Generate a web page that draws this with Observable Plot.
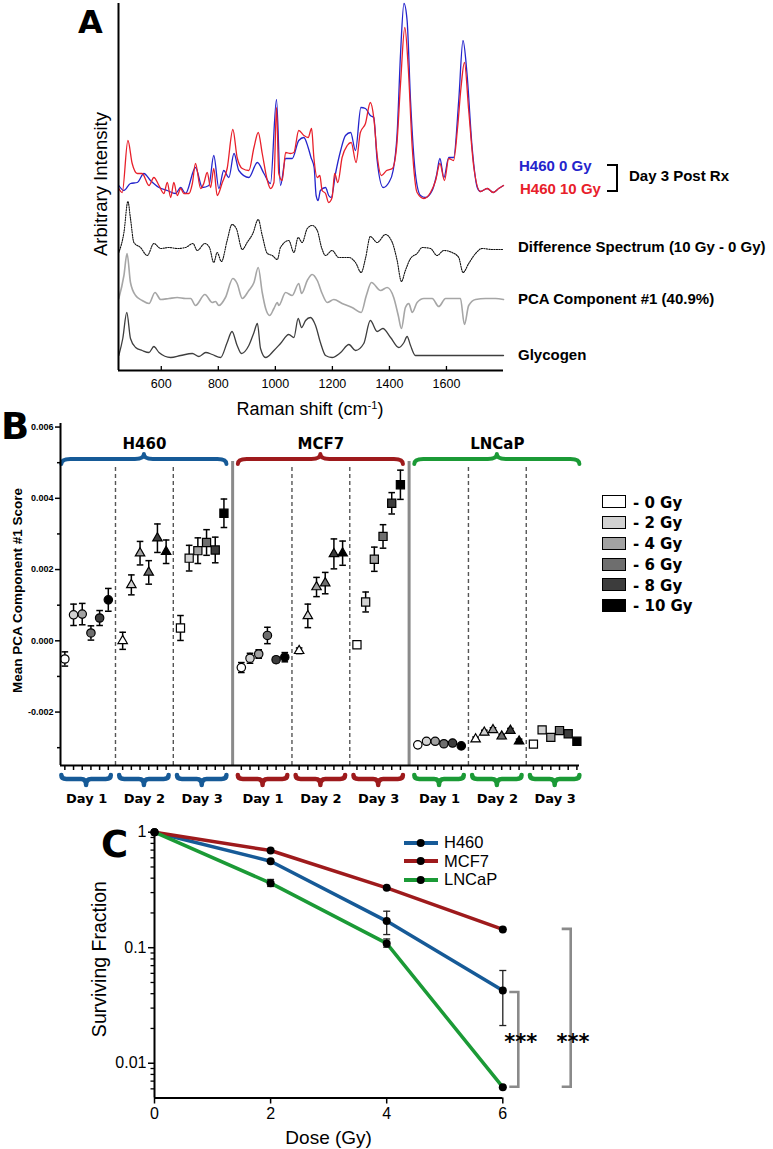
<!DOCTYPE html>
<html>
<head>
<meta charset="utf-8">
<script src="https://cdn.jsdelivr.net/npm/d3@7"></script>
<script src="https://cdn.jsdelivr.net/npm/@observablehq/plot@0.6"></script>
<style>
html,body{margin:0;padding:0;background:#fff;}
#root{position:relative;width:773px;height:1149px;overflow:hidden;background:#fff;}
.abs{position:absolute;white-space:nowrap;line-height:1;}
sup{font-size:62%;vertical-align:0.55em;line-height:0;}
</style>
</head>
<body>
<div id="root"></div>
<script>
// ================= DATA =================
// ---- Panel A: Raman spectra, [wavenumber cm^-1, arbitrary intensity] ----
const h460_0Gy = [[451,185],[469,180],[492,187],[516,188],[539,197],[562,190],[592,183],[621,180],[650,177],[668,183],[685,177],[720,203],[744,183],[767,185],[784,215],[802,182],[819,200],[837,193],[855,217],[872,200],[907,193],[937,208],[960,197],[983,187],[1004,271],[1018,185],[1036,212],[1059,212],[1082,230],[1100,233],[1115,223],[1125,213],[1136,203],[1143,175],[1150,170],[1158,180],[1176,183],[1187,175],[1196,173],[1211,197],[1229,220],[1246,235],[1264,238],[1281,220],[1300,263],[1316,262],[1333,255],[1345,253],[1357,210],[1378,183],[1398,188],[1413,200],[1427,237],[1439,317],[1451,367],[1462,350],[1474,270],[1491,197],[1509,175],[1526,173],[1550,180],[1565,195],[1577,212],[1591,193],[1608,213],[1625,213],[1643,270],[1658,330],[1672,297],[1690,223],[1708,183],[1719,179],[1743,182],[1764,178],[1783,182],[1800,185]];
const h460_10Gy = [[451,182],[463,178],[483,230],[498,207],[516,197],[533,197],[557,185],[574,193],[592,185],[609,177],[621,188],[633,173],[644,188],[656,175],[668,182],[679,177],[697,177],[709,187],[720,207],[738,182],[749,187],[761,198],[773,183],[784,202],[796,175],[814,188],[831,202],[851,241],[866,213],[884,202],[907,200],[925,223],[940,238],[954,217],[972,190],[983,182],[995,188],[1004,263],[1012,197],[1024,190],[1036,218],[1053,217],[1065,218],[1082,240],[1100,235],[1115,233],[1127,242],[1135,213],[1147,193],[1156,195],[1164,180],[1176,177],[1187,168],[1199,173],[1208,197],[1219,188],[1234,213],[1252,225],[1266,228],[1283,208],[1298,238],[1316,247],[1333,268],[1345,253],[1357,215],[1372,195],[1390,200],[1410,202],[1425,223],[1439,287],[1454,343],[1466,303],[1480,223],[1497,178],[1521,172],[1544,178],[1562,190],[1577,207],[1593,190],[1608,212],[1625,210],[1639,243],[1651,283],[1663,308],[1678,260],[1696,203],[1719,179],[1743,182],[1764,178],[1783,182],[1800,185]];
const differenceSpectrum = [[451,118],[469,138],[483,169],[492,152],[504,128],[527,123],[551,115],[574,127],[598,122],[627,123],[656,122],[685,123],[711,127],[726,120],[753,127],[769,123],[784,108],[796,118],[811,109],[831,130],[848,146],[863,142],[884,121],[901,128],[921,137],[940,151],[954,135],[972,117],[989,115],[1007,111],[1018,123],[1047,130],[1065,118],[1080,133],[1094,128],[1112,142],[1129,145],[1147,140],[1162,123],[1176,115],[1199,120],[1222,113],[1258,113],[1281,108],[1301,98],[1316,112],[1333,134],[1357,128],[1386,136],[1410,128],[1427,110],[1442,89],[1456,100],[1474,112],[1497,117],[1515,123],[1544,122],[1567,115],[1591,120],[1620,118],[1643,113],[1658,98],[1678,107],[1702,117],[1725,122],[1760,121],[1800,121]];
const pcaComponent1 = [[451,72],[469,95],[480,117],[492,88],[510,75],[533,70],[557,67],[578,78],[598,71],[627,72],[656,73],[685,72],[703,72],[720,65],[753,76],[779,68],[790,69],[802,65],[825,73],[851,92],[866,87],[884,72],[907,80],[925,88],[940,103],[954,78],[966,62],[980,55],[995,62],[1007,68],[1012,65],[1036,78],[1059,75],[1082,87],[1092,77],[1112,90],[1129,96],[1147,90],[1164,77],[1182,68],[1205,71],[1234,67],[1269,63],[1301,58],[1319,75],[1337,88],[1369,80],[1392,83],[1415,73],[1431,55],[1442,42],[1456,63],[1468,67],[1480,58],[1497,68],[1521,72],[1550,72],[1573,64],[1597,72],[1632,72],[1649,72],[1663,46],[1678,65],[1702,71],[1737,72],[1772,72],[1800,71]];
const glycogen = [[451,15],[465,32],[479,58],[492,32],[510,23],[533,20],[557,18],[574,24],[592,18],[633,13],[668,15],[709,17],[732,14],[756,18],[779,16],[808,13],[831,28],[848,39],[866,25],[881,17],[907,25],[925,38],[937,47],[948,22],[966,13],[995,20],[1018,27],[1047,36],[1065,33],[1080,52],[1092,43],[1106,50],[1123,53],[1141,45],[1158,28],[1176,15],[1199,13],[1229,18],[1258,26],[1281,20],[1310,27],[1333,50],[1357,39],[1377,42],[1404,33],[1433,23],[1451,28],[1462,34],[1474,25],[1491,15],[1608,15],[1800,15]];
const ramanTicks = [600, 800, 1000, 1200, 1400, 1600];

// ---- Panel B: mean PCA component #1 score, [day][dose] ----
const cellLines = ["H460", "MCF7", "LNCaP"];
const dayLabels = ["Day 1", "Day 2", "Day 3"];
const doseLabels = ["0 Gy", "2 Gy", "4 Gy", "6 Gy", "8 Gy", "10 Gy"];
const h460Mean = [[-0.00051,0.00073,0.00075,0.00022,0.00064,0.00115],[0.00000,0.00157,0.00246,0.00192,0.00288,0.00250],[0.00036,0.00232,0.00253,0.00276,0.00255,0.00358]];
const h460Err  = [[0.00020,0.00030,0.00030,0.00020,0.00021,0.00032],[0.00024,0.00028,0.00033,0.00033,0.00040,0.00033],[0.00035,0.00036,0.00036,0.00036,0.00036,0.00040]];
const mcf7Mean = [[-0.00075,-0.00049,-0.00037,0.00015,-0.00053,-0.00046],[-0.00028,0.00070,0.00151,0.00162,0.00244,0.00246],[-0.00011,0.00109,0.00229,0.00293,0.00386,0.00438]];
const mcf7Err  = [[0.00014,0.00014,0.00012,0.00023,0.00008,0.00013],[0.00008,0.00033,0.00027,0.00030,0.00042,0.00034],[0.00006,0.00028,0.00034,0.00033,0.00030,0.00041]];
const lncapMean = [[-0.00292,-0.00282,-0.00282,-0.00289,-0.00287,-0.00295],[-0.00276,-0.00257,-0.00250,-0.00268,-0.00252,-0.00282],[-0.00290,-0.00250,-0.00271,-0.00252,-0.00261,-0.00282]];
const lncapErr  = [[0.00005,0.00005,0.00005,0.00005,0.00005,0.00005],[0.00006,0.00006,0.00006,0.00006,0.00006,0.00006],[0.00006,0.00006,0.00006,0.00006,0.00006,0.00006]];
const pcaTicksMajor = [-0.002, 0, 0.002, 0.004, 0.006];
const pcaTicksMinor = [-0.003, -0.001, 0.001, 0.003, 0.005];

// ---- Panel C: clonogenic survival ----
const doseGy = [0, 2, 4, 6];
const sfH460  = [1, 0.561, 0.170, 0.0426];
const sfH460Lo = [1, 0.561, 0.130, 0.0212];
const sfH460Hi = [1, 0.561, 0.207, 0.0635];
const sfMCF7  = [1, 0.694, 0.330, 0.144];
const sfMCF7Lo = [1, 0.694, 0.330, 0.144];
const sfMCF7Hi = [1, 0.694, 0.330, 0.144];
const sfLNCaP = [1, 0.362, 0.109, 0.0062];
const sfLNCaPLo = [1, 0.339, 0.101, 0.0062];
const sfLNCaPHi = [1, 0.390, 0.119, 0.0062];
const sfTicks = [0.01, 0.1, 1];
const sfMinorTicks = [0.006,0.007,0.008,0.009,0.02,0.03,0.04,0.05,0.06,0.07,0.08,0.09,0.2,0.3,0.4,0.5,0.6,0.7,0.8,0.9];
const doseTicks = [0, 2, 4, 6];

// ================= STYLE / LAYOUT =================
const cellColors = ["#165a97", "#9e1a1c", "#1b9a36"];
const doseFills = ["#ffffff", "#d2d2d2", "#a2a2a2", "#6e6e6e", "#3c3c3c", "#000000"];
const daySymbols = ["circle", "triangle", "square"];
const daySymbolR = [4.2, 3.5, 4.6];
const SANS = "Liberation Sans, Arial, Helvetica, sans-serif";
const VERD = "DejaVu Sans, Verdana, sans-serif";
const SVGNS = "http://www.w3.org/2000/svg";
const root = document.getElementById("root");

function place(el, top) {
  el.style.position = "absolute"; el.style.left = "0px"; el.style.top = top + "px";
  root.appendChild(el);
}
function label(text, x, baseline, fs, o = {}) {
  const d = document.createElement("div");
  d.className = "abs";
  d.style.left = x + "px";
  d.style.top = (baseline - 0.846 * fs) + "px";
  d.style.fontSize = fs + "px";
  d.style.fontFamily = o.family || SANS;
  d.style.fontWeight = o.weight || "bold";
  d.style.color = o.color || "#000";
  if (o.anchor === "middle") d.style.transform = "translateX(-50%)";
  if (o.html) d.innerHTML = text; else d.textContent = text;
  root.appendChild(d);
  return d;
}
const capSymbol = {draw(ctx, size) { const w = Math.sqrt(size / Math.PI); ctx.moveTo(-w, 0); ctx.lineTo(w, 0); }};
function svgEl(tag, attrs) {
  const e = document.createElementNS(SVGNS, tag);
  for (const k in attrs) e.setAttribute(k, attrs[k]);
  return e;
}

// ================= PANEL A =================
const toRows = (arr) => arr.map(([wn, v]) => ({wn, v}));
const plotA = Plot.plot({
  width: 773, height: 425,
  marginTop: 3, marginBottom: 55, marginLeft: 118, marginRight: 270,
  x: {domain: [450, 1800]},
  y: {domain: [0, 367], axis: null},
  style: {fontFamily: SANS, fontSize: "12.5px", background: "transparent", color: "black", overflow: "visible"},
  marks: [
    Plot.line(toRows(glycogen), {x: "wn", y: "v", stroke: "#3e3e3e", strokeWidth: 1.3, curve: "monotone-x"}),
    Plot.line(toRows(pcaComponent1), {x: "wn", y: "v", stroke: "#a6a6a6", strokeWidth: 1.6, curve: "monotone-x"}),
    Plot.line(toRows(differenceSpectrum), {x: "wn", y: "v", stroke: "#111", strokeWidth: 1.1, strokeDasharray: "1.3,1.2", curve: "monotone-x"}),
    Plot.line(toRows(h460_0Gy), {x: "wn", y: "v", stroke: "#2424cc", strokeWidth: 1.3, curve: "monotone-x"}),
    Plot.line(toRows(h460_10Gy), {x: "wn", y: "v", stroke: "#e8202a", strokeWidth: 1.3, curve: "monotone-x"}),
    Plot.ruleX(ramanTicks, {y1: 0, y2: 4, stroke: "black", strokeWidth: 1.3}),
    Plot.axisX({ticks: ramanTicks, tickFormat: d => String(d), tickSize: 0, tickPadding: 9, label: null, fontSize: 12.5}),
    Plot.ruleX([450], {stroke: "black", strokeWidth: 2}),
    Plot.ruleY([0], {stroke: "black", strokeWidth: 2}),
    Plot.text(["Arbitrary Intensity"], {frameAnchor: "left", rotate: -90, textAnchor: "middle", lineAnchor: "middle", dx: -17.5, dy: -3, fontSize: 18.5})
  ]
});
place(plotA, 0);

// ================= PANEL B =================
const CELL_STEP = 20.3, DAY_STEP = 6.65;
const slot = (ci, di, k) => ci * CELL_STEP + di * DAY_STEP + k;
const meansB = [h460Mean, mcf7Mean, lncapMean];
const errsB = [h460Err, mcf7Err, lncapErr];
const rowsB = [];
cellLines.forEach((c, ci) => dayLabels.forEach((d, di) => doseLabels.forEach((g, k) => {
  const m = meansB[ci][di][k], e = errsB[ci][di][k];
  rowsB.push({cell: c, day: d, dose: g, pos: slot(ci, di, k), mean: m, lo: m - e, hi: m + e});
})));
const daySeps = [], cellSeps = [], dayRows = [], cellRows = [];
cellLines.forEach((c, ci) => {
  cellRows.push({cell: c, center: (slot(ci, 0, 0) + slot(ci, 2, 5)) / 2});
  dayLabels.forEach((d, di) => {
    dayRows.push({day: d, center: (slot(ci, di, 0) + slot(ci, di, 5)) / 2});
    if (di < 2) daySeps.push((slot(ci, di, 5) + slot(ci, di + 1, 0)) / 2);
  });
  if (ci < 2) cellSeps.push((slot(ci, 2, 5) + slot(ci + 1, 0, 0)) / 2);
});
const yMinB = -0.0035, yMaxB = 0.0061, braceLevel = 0.00495;

function bracePath(x1, x2, y0, dir, hMain, hTip, r) {
  const xm = (x1 + x2) / 2, yl = y0 + dir * hMain, yt = y0 + dir * hTip;
  return `M${x1},${y0}Q${x1},${yl} ${x1 + r},${yl}L${xm - r},${yl}Q${xm},${yl} ${xm},${yt}Q${xm},${yl} ${xm + r},${yl}L${x2 - r},${yl}Q${x2},${yl} ${x2},${y0}`;
}
function bracesB(index, scales, values, dims) {
  const g = svgEl("g", {fill: "none", "stroke-linecap": "round", "stroke-linejoin": "round"});
  const yAxis = dims.height - dims.marginBottom;
  cellLines.forEach((c, ci) => {
    const x1 = scales.x(slot(ci, 0, 0)) - 3, x2 = scales.x(slot(ci, 2, 5)) + 3;
    g.appendChild(svgEl("path", {d: bracePath(x1, x2, scales.y(braceLevel), -1, 5, 10, 9), stroke: cellColors[ci], "stroke-width": 4}));
    dayLabels.forEach((d, di) => {
      const a = scales.x(slot(ci, di, 0)) - 3, b = scales.x(slot(ci, di, 5)) + 3;
      g.appendChild(svgEl("path", {d: bracePath(a, b, yAxis + 10, 1, 4, 10, 5), stroke: cellColors[ci], "stroke-width": 4.5}));
    });
  });
  return g;
}

const plotB = Plot.plot({
  width: 773, height: 400,
  marginTop: 13, marginBottom: 45, marginLeft: 60, marginRight: 194,
  x: {domain: [-0.5, 59.2]},
  y: {domain: [yMinB, yMaxB]},
  color: {type: "ordinal", domain: doseLabels, range: doseFills},
  style: {fontFamily: SANS, fontSize: "9px", fontWeight: "bold", background: "transparent", color: "black", overflow: "visible"},
  marks: [
    Plot.ruleX(daySeps, {y1: yMinB, y2: braceLevel, stroke: "#555", strokeWidth: 1.4, strokeDasharray: "4,3"}),
    Plot.ruleX(cellSeps, {y1: yMinB, y2: braceLevel, stroke: "#8a8a8a", strokeWidth: 3, insetBottom: 3}),
    bracesB,
    Plot.ruleX(rowsB, {x: "pos", y1: "lo", y2: "hi", stroke: "black", strokeWidth: 1.5}),
    Plot.dot(rowsB, {x: "pos", y: "lo", symbol: capSymbol, r: 3.3, fill: "none", stroke: "black", strokeWidth: 1.5}),
    Plot.dot(rowsB, {x: "pos", y: "hi", symbol: capSymbol, r: 3.3, fill: "none", stroke: "black", strokeWidth: 1.5}),
    ...dayLabels.map((d, di) => Plot.dot(rowsB.filter(r => r.day === d), {x: "pos", y: "mean", fill: "dose", symbol: daySymbols[di], r: daySymbolR[di], stroke: "black", strokeWidth: 1.2})),
    Plot.axisY({ticks: pcaTicksMajor, tickFormat: d => d.toFixed(3), tickSize: 5, tickPadding: 2, fontSize: 9, label: null, strokeWidth: 1.5}),
    Plot.axisY({ticks: pcaTicksMinor, tickFormat: () => "", tickSize: 3, label: null, strokeWidth: 1.5}),
    Plot.axisX({ticks: rowsB.map(r => r.pos), tickFormat: () => "", tickSize: 5, label: null, strokeWidth: 1.5}),
    Plot.ruleX([-0.5], {stroke: "black", strokeWidth: 2}),
    Plot.ruleY([yMinB], {stroke: "black", strokeWidth: 2}),
    Plot.text(cellRows, {x: "center", text: "cell", frameAnchor: "top", lineAnchor: "middle", dy: 20.7, fontFamily: VERD, fontSize: 15, fontWeight: "bold"}),
    Plot.text(dayRows, {x: "center", text: "day", frameAnchor: "bottom", lineAnchor: "middle", dy: 33, fontFamily: VERD, fontSize: 13, fontWeight: "bold"}),
    Plot.text(["Mean PCA Component #1 Score"], {frameAnchor: "left", rotate: -90, textAnchor: "middle", lineAnchor: "middle", dx: -43, dy: -4, fontSize: 13.5, fontWeight: "bold"})
  ]
});
place(plotB, 410);

// ================= PANEL C =================
const survRows = (cell, sf, lo, hi) => doseGy.map((d, i) => ({cell, dose: d, sf: sf[i], lo: lo[i], hi: hi[i]}));
const rowsC = [
  ...survRows("H460", sfH460, sfH460Lo, sfH460Hi),
  ...survRows("MCF7", sfMCF7, sfMCF7Lo, sfMCF7Hi),
  ...survRows("LNCaP", sfLNCaP, sfLNCaPLo, sfLNCaPHi)
];
function sigC(index, scales, values, dims) {
  const g = svgEl("g", {});
  const x6 = scales.x(6);
  const yH = scales.y(sfH460[3]), yM = scales.y(sfMCF7[3]), yL = scales.y(sfLNCaP[3]);
  const yStar = (yH + yL) / 2;
  const br = (xa, xb, y1, y2) => g.appendChild(svgEl("path", {d: `M${xa},${y1}H${xb}V${y2}H${xa}`, fill: "none", stroke: "#8a8a8a", "stroke-width": 2.6}));
  br(x6 + 7, x6 + 16, yH + 2, yL);
  br(x6 + 59.4, x6 + 68.4, yM, yL);
  for (const xs of [x6 + 18.4, x6 + 70.7]) {
    const t = svgEl("text", {x: xs, y: yStar + 11, "font-family": VERD, "font-weight": "bold", "font-size": 21, fill: "black"});
    t.textContent = "***";
    g.appendChild(t);
  }
  return g;
}
const plotC = Plot.plot({
  width: 773, height: 334,
  marginTop: 16.7, marginBottom: 51.5, marginLeft: 154, marginRight: 270.7,
  x: {domain: [0, 6]},
  y: {type: "log", domain: [0.005, 1]},
  style: {fontFamily: SANS, fontSize: "16px", background: "transparent", color: "black", overflow: "visible"},
  marks: [
    Plot.axisY({ticks: sfTicks, tickFormat: d => String(d), tickSize: 6, tickPadding: 2, fontSize: 16, label: null, strokeWidth: 1.5}),
    Plot.axisY({ticks: sfMinorTicks, tickFormat: () => "", tickSize: 3.5, label: null, strokeWidth: 1.3}),
    Plot.axisX({ticks: doseTicks, tickFormat: d => String(d), tickSize: 6, tickPadding: 4, fontSize: 16, label: null, strokeWidth: 1.5}),
    ...cellLines.map((c, ci) => Plot.line(rowsC.filter(r => r.cell === c), {x: "dose", y: "sf", stroke: cellColors[ci], strokeWidth: 3.5})),
    Plot.ruleX(rowsC, {x: "dose", y1: "lo", y2: "hi", stroke: "#222", strokeWidth: 1.3}),
    Plot.dot(rowsC, {x: "dose", y: "lo", symbol: capSymbol, r: 3.5, fill: "none", stroke: "#222", strokeWidth: 1.3}),
    Plot.dot(rowsC, {x: "dose", y: "hi", symbol: capSymbol, r: 3.5, fill: "none", stroke: "#222", strokeWidth: 1.3}),
    Plot.dot(rowsC, {x: "dose", y: "sf", r: 4, fill: "black"}),
    Plot.ruleX([0], {stroke: "black", strokeWidth: 2}),
    Plot.ruleY([0.005], {stroke: "black", strokeWidth: 2}),
    sigC,
    Plot.text(["Surviving Fraction"], {frameAnchor: "left", rotate: -90, textAnchor: "middle", lineAnchor: "middle", dx: -55, dy: -6, fontSize: 19.5}),
    Plot.text(["Dose (Gy)"], {frameAnchor: "bottom", textAnchor: "middle", lineAnchor: "middle", dy: 39.5, fontSize: 19})
  ]
});
place(plotC, 815);

// ================= HTML LABELS / LEGENDS =================
// Panel letters
label("A", 78, 33, 32, {family: VERD});
label("B", 1, 439, 37, {family: VERD});
label("C", 101, 857, 37, {family: VERD});

// Panel A: axis title with superscript, series labels
label("Raman shift (cm<sup>-1</sup>)", 310, 415, 18, {weight: "normal", anchor: "middle", html: true});
label("H460 0 Gy", 519, 171, 15, {color: "#2424cc"});
label("H460 10 Gy", 520, 193.3, 15, {color: "#e8202a"});
(() => {
  const b = document.createElement("div");
  b.className = "abs";
  Object.assign(b.style, {left: "607px", top: "164px", width: "9px", height: "24px", border: "2.3px solid #000", borderLeft: "none"});
  root.appendChild(b);
})();
label("Day 3 Post Rx", 629, 180.7, 15);
label("Difference Spectrum (10 Gy - 0 Gy)", 518, 251.7, 15);
label("PCA Component #1 (40.9%)", 518, 304, 15);
label("Glycogen", 518, 360, 15);

// Panel B legend (dose grayscale)
const legendBCenters = [502.3, 523, 543.7, 564.7, 585.3, 606];
doseLabels.forEach((g, k) => {
  const sq = document.createElement("div");
  sq.className = "abs";
  Object.assign(sq.style, {left: "602px", top: (legendBCenters[k] - 7) + "px", width: "22px", height: "11px", background: doseFills[k], border: "1.5px solid #000"});
  root.appendChild(sq);
  label("- " + g, 633, legendBCenters[k] + 6, 15, {family: VERD});
});

// Panel C legend
const legendCCenters = [842.5, 861, 879.5];
const legendCOrder = [0, 1, 2];
legendCOrder.forEach((ci, i) => {
  const s = document.createElementNS(SVGNS, "svg");
  s.setAttribute("width", 36); s.setAttribute("height", 12);
  s.style.position = "absolute"; s.style.left = "403px"; s.style.top = (legendCCenters[i] - 6) + "px";
  s.appendChild(svgEl("line", {x1: 1, x2: 35, y1: 6, y2: 6, stroke: cellColors[ci], "stroke-width": 4}));
  s.appendChild(svgEl("circle", {cx: 17.7, cy: 6, r: 4, fill: "black"}));
  root.appendChild(s);
  label(cellLines[ci], 444, legendCCenters[i] + 5.8, 16.5, {weight: "normal"});
});
</script>
</body>
</html>
